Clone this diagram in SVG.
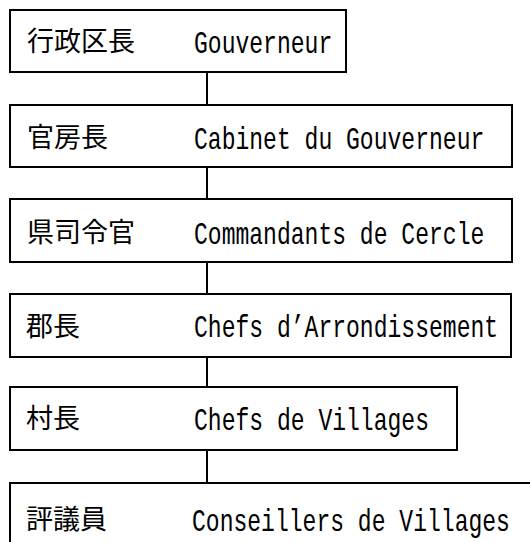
<svg xmlns="http://www.w3.org/2000/svg" width="530" height="542" viewBox="0 0 530 542">
<style>
.box{fill:#fff;stroke:#000;stroke-width:2}
.ln{stroke:#000;stroke-width:2;fill:none}
.jp{font-family:"Noto Sans CJK JP","Noto Sans CJK SC",sans-serif;font-size:27px;fill:#000}
.en{font-family:"Liberation Mono","DejaVu Sans Mono",monospace;font-size:32px;fill:#000}
</style>
<rect width="530" height="542" fill="#fff"/>
<g id="connectors">
<line class="ln" x1="207" y1="72" x2="207" y2="105"/>
<line class="ln" x1="207" y1="167" x2="207" y2="199"/>
<line class="ln" x1="207" y1="262" x2="207" y2="294"/>
<line class="ln" x1="207" y1="357" x2="207" y2="387"/>
<line class="ln" x1="207" y1="450" x2="207" y2="483"/>
</g>
<g id="n1">
<rect class="box" x="10" y="10" width="336" height="62"/>
<text class="jp" x="27" y="51">行政区長</text>
<text class="en" transform="translate(194,53) scale(0.72,1)">Gouverneur</text>
</g>
<g id="n2">
<rect class="box" x="10" y="105" width="502" height="62"/>
<text class="jp" x="27" y="147">官房長</text>
<text class="en" transform="translate(194,149) scale(0.72,1)">Cabinet du Gouverneur</text>
</g>
<g id="n3">
<rect class="box" x="10" y="199" width="502" height="63"/>
<text class="jp" x="27" y="242">県司令官</text>
<text class="en" transform="translate(194,244) scale(0.72,1)">Commandants de Cercle</text>
</g>
<g id="n4">
<rect class="box" x="10" y="294" width="501" height="63"/>
<text class="jp" x="26" y="336">郡長</text>
<text class="en" transform="translate(194,337) scale(0.72,1)">Chefs d’Arrondissement</text>
</g>
<g id="n5">
<rect class="box" x="10" y="387" width="447" height="63"/>
<text class="jp" x="26" y="428">村長</text>
<text class="en" transform="translate(194,430) scale(0.72,1)">Chefs de Villages</text>
</g>
<g id="n6">
<rect class="box" x="10" y="483" width="540" height="80"/>
<text class="jp" x="26" y="529">評議員</text>
<text class="en" transform="translate(192,531) scale(0.72,1)">Conseillers de Villages</text>
</g>
</svg>
